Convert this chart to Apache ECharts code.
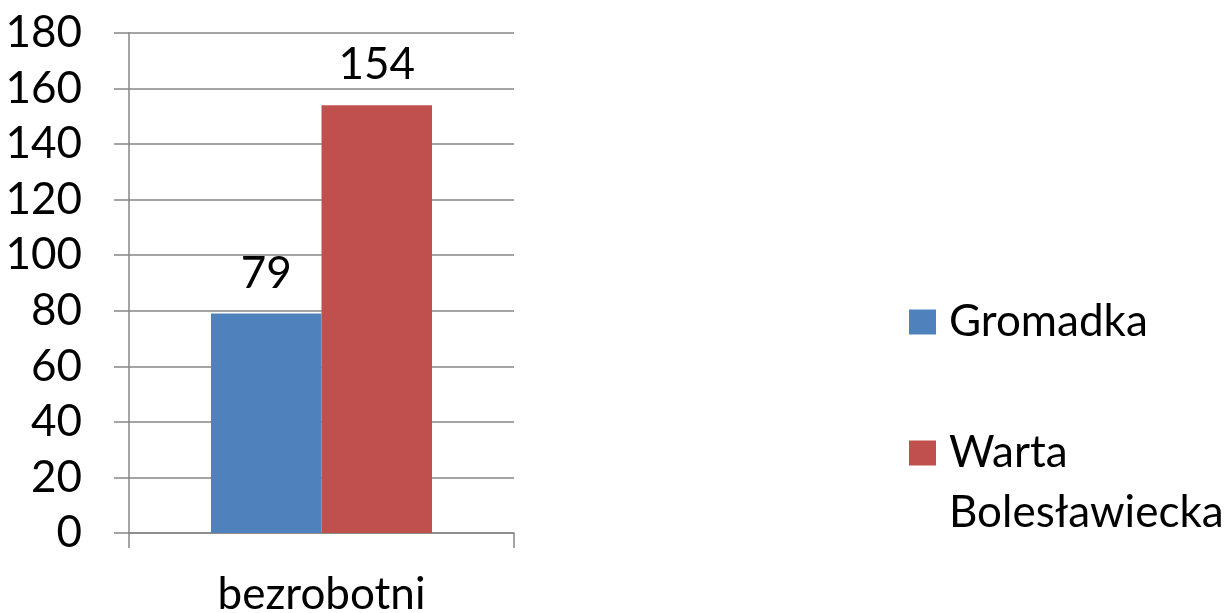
<!DOCTYPE html>
<html>
<head>
<meta charset="utf-8">
<script src="https://cdn.jsdelivr.net/npm/echarts@6/dist/echarts.min.js"></script>
<style>html,body{margin:0;padding:0;background:#fff;}#c{width:1228px;height:613px;}</style>
</head>
<body>
<div id="c"></div>
<script>
const categories = ['bezrobotni'];
const seriesNames = ['Gromadka', 'Warta Bolesławiecka'];
const gromadka = [79];
const warta = [154];
const yTicks = [0, 20, 40, 60, 80, 100, 120, 140, 160, 180];

const FONT = 'Lato';
const FS = 44;
const axisColor = '#868686';
const chart = echarts.init(document.getElementById('c'));
chart.setOption({
  animation: false,
  backgroundColor: '#fff',
  textStyle: { fontFamily: FONT },
  legend: [
    {
      data: [seriesNames[0]],
      left: 904, top: 287,
      orient: 'vertical',
      itemWidth: 27, itemHeight: 25,
      icon: 'rect',
      textStyle: { fontFamily: FONT, fontSize: FS, color: '#000', lineHeight: 60, padding: [0, 0, 0, 8] }
    },
    {
      data: [seriesNames[1]],
      left: 904, top: 358,
      orient: 'vertical',
      itemWidth: 27, itemHeight: 25,
      icon: 'rect',
      formatter: function (n) { return '\n' + n.replace(' ', '\n'); },
      textStyle: { fontFamily: FONT, fontSize: FS, color: '#000', lineHeight: 60, padding: [0, 0, 0, 8] }
    }
  ],
  grid: { left: 129, right: 714, top: 33, bottom: 80, containLabel: false, outerBoundsMode: 'none' },
  xAxis: {
    type: 'category',
    data: categories,
    axisLine: { lineStyle: { color: axisColor, width: 1.5 } },
    axisTick: { show: true, length: 15, lineStyle: { color: axisColor, width: 1.5 } },
    axisLabel: { fontFamily: FONT, fontSize: FS, color: '#000', margin: 40 }
  },
  yAxis: {
    type: 'value',
    min: yTicks[0], max: yTicks[yTicks.length - 1], interval: 20,
    axisLine: { show: true, lineStyle: { color: axisColor, width: 1.5 } },
    axisTick: { show: true, length: 15, lineStyle: { color: axisColor, width: 1.5 } },
    splitLine: { lineStyle: { color: axisColor, width: 1.5 } },
    axisLabel: { fontFamily: FONT, fontSize: FS, color: '#000', margin: 47, padding: [0, 0, 6, 0] }
  },
  series: [
    {
      name: seriesNames[0], type: 'bar', data: gromadka,
      barGap: '0%', barCategoryGap: '42.6%',
      itemStyle: { color: '#4f81bd' },
      label: { show: true, position: 'top', distance: 18, fontFamily: FONT, fontSize: FS, color: '#000' }
    },
    {
      name: seriesNames[1], type: 'bar', data: warta,
      barGap: '0%', barCategoryGap: '42.6%',
      itemStyle: { color: '#c0504d' },
      label: { show: true, position: 'top', distance: 18, fontFamily: FONT, fontSize: FS, color: '#000' }
    }
  ]
});
</script>
</body>
</html>
